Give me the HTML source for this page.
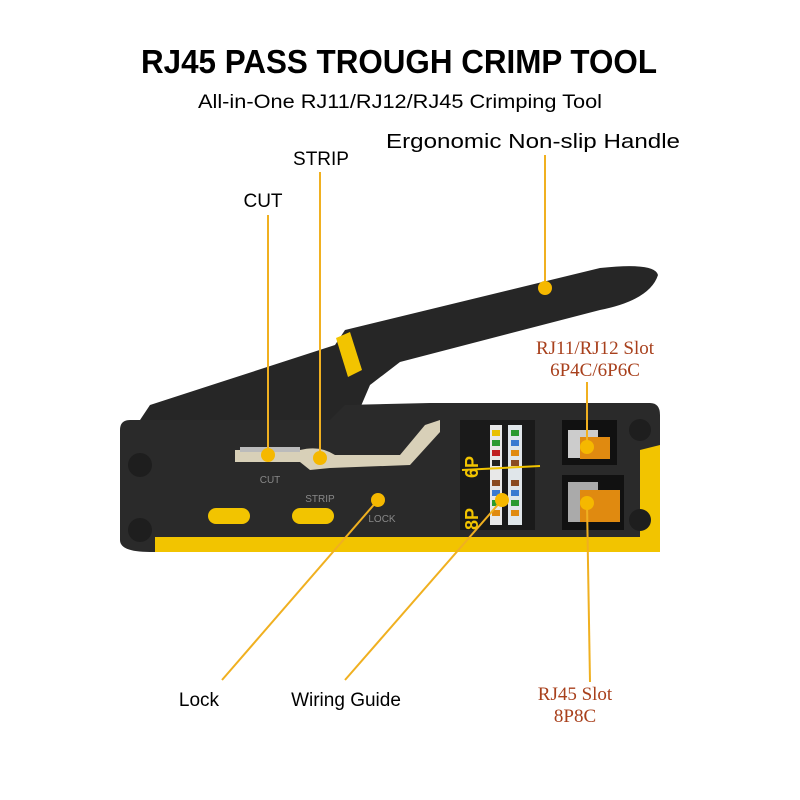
<!DOCTYPE html>
<html><head><meta charset="utf-8"><style>html,body{margin:0;padding:0;background:#fff}svg{display:block}</style></head>
<body>
<svg width="800" height="800" viewBox="0 0 800 800" xmlns="http://www.w3.org/2000/svg" font-family="Liberation Sans, sans-serif">
<rect width="800" height="800" fill="#fff"/>
<text x="399" y="73" font-size="33" font-weight="bold" text-anchor="middle" textLength="516" lengthAdjust="spacingAndGlyphs">RJ45 PASS TROUGH CRIMP TOOL</text>
<text x="400" y="108" font-size="19" text-anchor="middle" textLength="404" lengthAdjust="spacingAndGlyphs">All-in-One RJ11/RJ12/RJ45 Crimping Tool</text>
<text x="533" y="148" font-size="20" text-anchor="middle" textLength="294" lengthAdjust="spacingAndGlyphs">Ergonomic Non-slip Handle</text>
<text x="321" y="165" font-size="19" text-anchor="middle">STRIP</text>
<text x="263" y="207" font-size="19" text-anchor="middle">CUT</text>
<text x="595" y="354" font-size="19" fill="#a8401c" font-family="Liberation Serif, serif" text-anchor="middle">RJ11/RJ12 Slot</text>
<text x="595" y="376" font-size="19" fill="#a8401c" font-family="Liberation Serif, serif" text-anchor="middle">6P4C/6P6C</text>
<text x="575" y="700" font-size="19" fill="#a8401c" font-family="Liberation Serif, serif" text-anchor="middle">RJ45 Slot</text>
<text x="575" y="722" font-size="19" fill="#a8401c" font-family="Liberation Serif, serif" text-anchor="middle">8P8C</text>
<text x="199" y="706" font-size="19" text-anchor="middle">Lock</text>
<text x="346" y="706" font-size="19" text-anchor="middle">Wiring Guide</text>

<!-- handle -->
<path d="M140,420 L150,405 L335,345 L345,330 L600,268 Q655,262 658,275 Q650,300 600,310 L400,362 L370,385 L355,420 Z" fill="#262626"/>
<path d="M336,338 L350,332 L362,370 L348,377 Z" fill="#f2c400"/>
<!-- body -->
<path d="M120,430 Q120,420 130,420 L330,420 L345,405 L430,403 L650,403 Q660,403 660,415 L660,550 L150,552 Q120,552 120,540 Z" fill="#2a2a2a"/>
<path d="M155,537 L660,537 L660,552 L155,552 Z" fill="#f2c400"/>
<path d="M640,450 L660,445 L660,540 L640,540 Z" fill="#f2c400"/>
<!-- slot channel -->
<path d="M235,450 L300,450 Q320,445 335,455 L400,455 L425,425 L440,420 L440,432 L410,465 L330,468 L310,470 L300,462 L235,462 Z" fill="#d8d0b8"/>
<path d="M240,447 L300,447 L300,452 L240,452 Z" fill="#bbb"/>
<!-- wiring guide -->
<rect x="460" y="420" width="75" height="110" fill="#1a1a1a"/>
<rect x="490" y="425" width="12" height="100" fill="#e8e8e8"/>
<rect x="508" y="425" width="14" height="100" fill="#e0e6ea"/>
<g>
<rect x="492" y="430" width="8" height="6" fill="#e8c000"/><rect x="492" y="440" width="8" height="6" fill="#2a9a30"/><rect x="492" y="450" width="8" height="6" fill="#c02020"/><rect x="492" y="460" width="8" height="6" fill="#222"/>
<rect x="492" y="480" width="8" height="6" fill="#8a4a20"/><rect x="492" y="490" width="8" height="6" fill="#3a7ad0"/><rect x="492" y="500" width="8" height="6" fill="#2a9a30"/><rect x="492" y="510" width="8" height="6" fill="#e08a10"/>
<rect x="511" y="430" width="8" height="6" fill="#2a9a30"/><rect x="511" y="440" width="8" height="6" fill="#3a7ad0"/><rect x="511" y="450" width="8" height="6" fill="#e08a10"/><rect x="511" y="460" width="8" height="6" fill="#8a4a20"/>
<rect x="511" y="480" width="8" height="6" fill="#8a4a20"/><rect x="511" y="490" width="8" height="6" fill="#3a7ad0"/><rect x="511" y="500" width="8" height="6" fill="#2a9a30"/><rect x="511" y="510" width="8" height="6" fill="#e08a10"/>
</g>
<line x1="462" y1="470" x2="540" y2="466" stroke="#f2c400" stroke-width="2"/>
<text x="478" y="478" font-size="18" font-weight="bold" fill="#f2c400" transform="rotate(-90 478 478)">6P</text>
<text x="478" y="530" font-size="18" font-weight="bold" fill="#f2c400" transform="rotate(-90 478 530)">8P</text>
<!-- slots -->
<rect x="562" y="420" width="55" height="45" fill="#111"/>
<rect x="568" y="430" width="30" height="28" fill="#ccc"/>
<rect x="580" y="437" width="30" height="22" fill="#e08a10"/>
<rect x="562" y="475" width="62" height="55" fill="#111"/>
<rect x="568" y="482" width="30" height="40" fill="#aaa"/>
<rect x="580" y="490" width="40" height="32" fill="#e08a10"/>
<!-- yellow pills -->
<rect x="208" y="508" width="42" height="16" rx="8" fill="#f2c400"/>
<rect x="292" y="508" width="42" height="16" rx="8" fill="#f2c400"/>
<text x="270" y="483" font-size="10" fill="#888" text-anchor="middle">CUT</text>
<text x="320" y="502" font-size="10" fill="#888" text-anchor="middle">STRIP</text>
<text x="382" y="522" font-size="10" fill="#888" text-anchor="middle">LOCK</text>
<circle cx="140" cy="465" r="12" fill="#1e1e1e"/>
<circle cx="140" cy="530" r="12" fill="#1e1e1e"/>
<circle cx="640" cy="430" r="11" fill="#1e1e1e"/>
<circle cx="640" cy="520" r="11" fill="#1e1e1e"/>
<!-- leaders -->
<g stroke="#f0b020" stroke-width="2" fill="none">
<line x1="545" y1="155" x2="545" y2="288"/>
<line x1="320" y1="172" x2="320" y2="458"/>
<line x1="268" y1="215" x2="268" y2="455"/>
<line x1="587" y1="382" x2="587" y2="447"/>
<line x1="587" y1="503" x2="590" y2="682"/>
<line x1="378" y1="500" x2="222" y2="680"/>
<line x1="502" y1="500" x2="345" y2="680"/>
</g>
<g fill="#f5b800">
<circle cx="545" cy="288" r="7"/><circle cx="268" cy="455" r="7"/><circle cx="320" cy="458" r="7"/>
<circle cx="378" cy="500" r="7"/><circle cx="502" cy="500" r="7"/><circle cx="587" cy="447" r="7"/><circle cx="587" cy="503" r="7"/>
</g>
</svg>
</body></html>
